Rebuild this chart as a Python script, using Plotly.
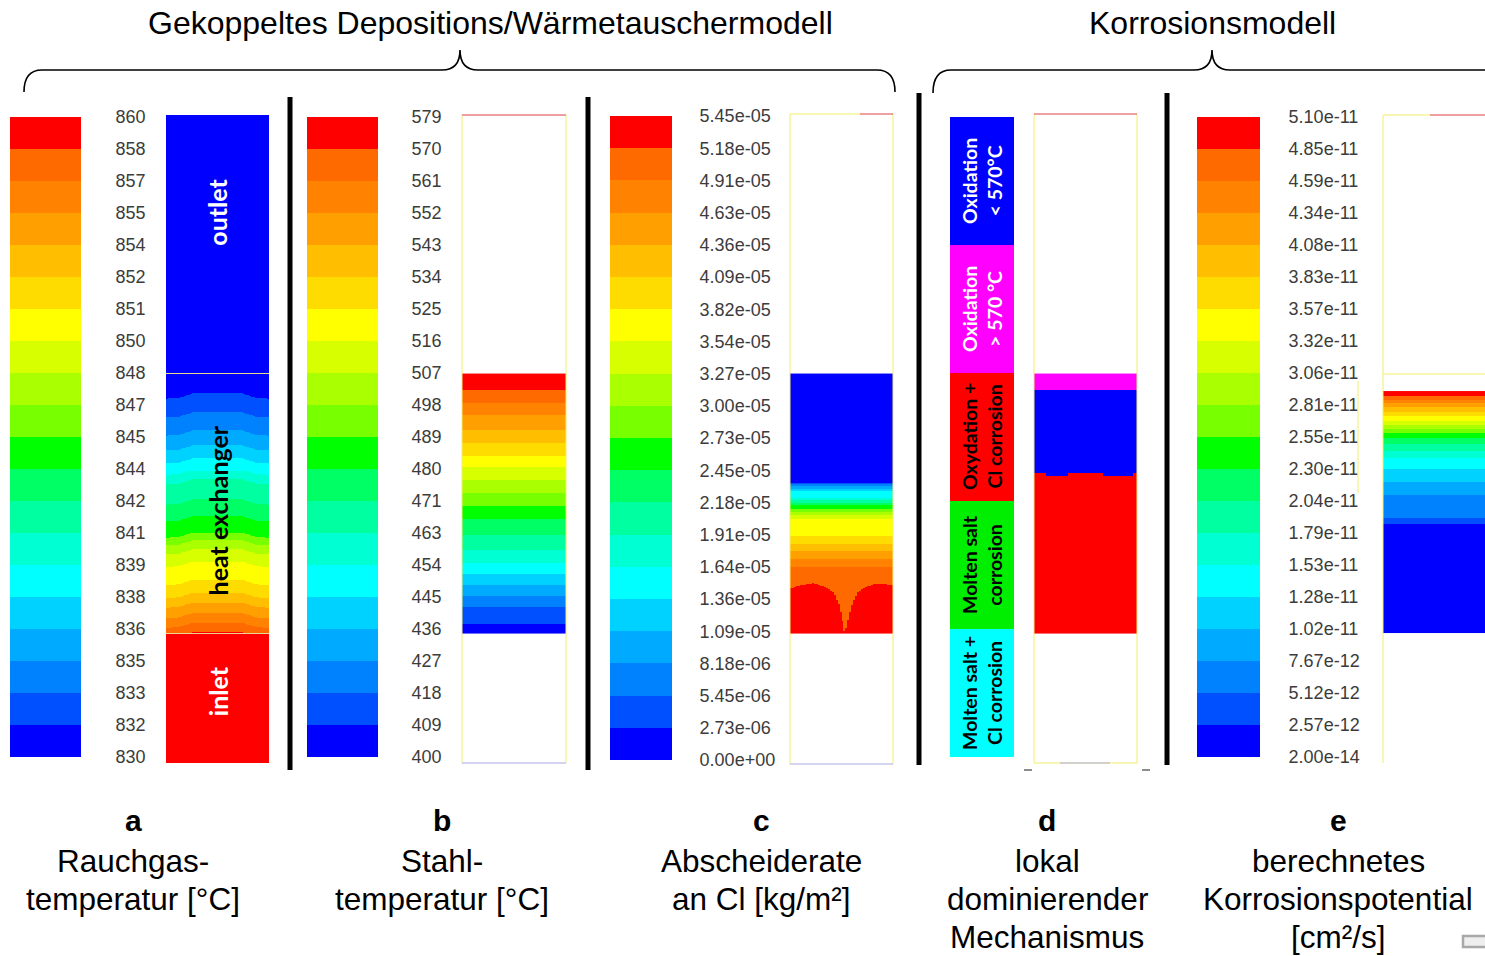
import numpy as np
import plotly.graph_objects as go

W, H = 1485, 956

# ---------------- colour-bar tick labels (bottom -> top) ----------------
a_labels = ["830", "832", "833", "835", "836", "838", "839", "841", "842", "844", "845",
            "847", "848", "850", "851", "852", "854", "855", "857", "858", "860"]
b_labels = ["400", "409", "418", "427", "436", "445", "454", "463", "471", "480", "489",
            "498", "507", "516", "525", "534", "543", "552", "561", "570", "579"]
c_labels = ["0.00e+00", "2.73e-06", "5.45e-06", "8.18e-06", "1.09e-05", "1.36e-05", "1.64e-05",
            "1.91e-05", "2.18e-05", "2.45e-05", "2.73e-05", "3.00e-05", "3.27e-05", "3.54e-05",
            "3.82e-05", "4.09e-05", "4.36e-05", "4.63e-05", "4.91e-05", "5.18e-05", "5.45e-05"]
e_labels = ["2.00e-14", "2.57e-12", "5.12e-12", "7.67e-12", "1.02e-11", "1.28e-11", "1.53e-11",
            "1.79e-11", "2.04e-11", "2.30e-11", "2.55e-11", "2.81e-11", "3.06e-11", "3.32e-11",
            "3.57e-11", "3.83e-11", "4.08e-11", "4.34e-11", "4.59e-11", "4.85e-11", "5.10e-11"]

a_range = (830.0, 860.0)
b_range = (400.0, 579.0)
c_range = (0.0, 5.45e-05)
e_range = (2.0e-14, 5.10e-11)

# normalised height: 0 = bottom of inlet, 1 = top of outlet
hx_bottom = 0.200
hx_top = 0.601

# a) flue gas temperature: heights of contour levels 1..19
a_inlet_T = 860.0
a_outlet_T = 830.0
a_iso_height = [0.571, 0.542, 0.514, 0.491, 0.471, 0.452, 0.437, 0.406, 0.380, 0.355,
                0.343, 0.329, 0.310, 0.282, 0.262, 0.247, 0.231, 0.216, 0.201]
a_shift_x = [0.0, 0.12, 0.26, 0.74, 0.88, 1.0]
a_shift = [-0.008, -0.007, 0.0, 0.0, -0.007, -0.008]

# b) steel temperature: heights of contour levels 1..19
b_iso_height = [0.216, 0.241, 0.258, 0.275, 0.292, 0.309, 0.329, 0.353, 0.377, 0.397,
                0.418, 0.438, 0.458, 0.475, 0.495, 0.515, 0.537, 0.557, 0.576]

# c) Cl deposition rate: heights of contour levels 1..19
c_iso_height = [0.4336, 0.4306, 0.4275, 0.4244, 0.4213, 0.4105, 0.4059, 0.4028, 0.3997, 0.3935,
                0.3889, 0.3843, 0.3781, 0.3519, 0.3395, 0.3287, 0.3164, 0.3040, 0.2716]
c_red_x = [0.0, 0.10, 0.22, 0.34, 0.42, 0.47, 0.505, 0.534, 0.57, 0.61, 0.66, 0.74, 0.85, 1.0]
c_red_top = [0.270, 0.275, 0.278, 0.273, 0.264, 0.247, 0.224, 0.200, 0.224, 0.247, 0.264,
             0.273, 0.278, 0.275]

# d) dominating mechanism
d_names = ["Molten salt +<br>Cl corrosion", "Molten salt<br>corrosion", "Oxydation +<br>Cl corrosion",
           "Oxidation<br>&gt; 570 °C", "Oxidation<br>&lt; 570°C"]
d_colors = ["#00ffff", "#00ee00", "#ff0000", "#ff00ff", "#0000ff"]
d_text_colors = ["black", "black", "black", "white", "white"]
d_wave_x = [0.0, 0.107, 0.33, 0.67, 0.96, 1.0]
d_blue_bottom = [0.449, 0.444, 0.449, 0.444, 0.449]
d_magenta_bottom = 0.576

# e) corrosion potential: heights of contour levels 1..19
e_iso_height = [0.369, 0.377, 0.414, 0.434, 0.454, 0.471, 0.481, 0.492, 0.502, 0.509,
                0.515, 0.522, 0.528, 0.535, 0.542, 0.549, 0.556, 0.560, 0.566]
e_top = 0.574

# ---------------- styling ----------------
BAND = ['#0000ff', '#0050ff', '#0082ff', '#00aaff', '#00d2ff', '#00ffff', '#00ffd2', '#00ffa0',
        '#00ff64', '#00ff00', '#78ff00', '#aaff00', '#d7ff00', '#ffff00', '#ffdc00', '#ffbe00',
        '#ffa000', '#ff8200', '#ff6a00', '#ff0000']


def discrete(colors):
    n = len(colors)
    cs = []
    for i, c in enumerate(colors):
        cs.append([i / n, c])
        cs.append([(i + 1) / n, c])
    return cs


CS = discrete(BAND)
TICKFONT = dict(family="Liberation Sans, Arial", size=18, color="#3c3c3c")
PX_PER_H = 648.0

fig = go.Figure()
axes = {}


def keys(i):
    return ('xaxis' if i == 1 else f'xaxis{i}', 'yaxis' if i == 1 else f'yaxis{i}',
            'x' if i == 1 else f'x{i}', 'y' if i == 1 else f'y{i}')


def make_axes(i, x0, x1, y0, y1, yr, ytick=None):
    xk, yk, xr, yrf = keys(i)
    axes[xk] = dict(domain=[x0 / W, x1 / W], range=[0, 1], visible=False, fixedrange=True, anchor=yrf)
    ya = dict(domain=[1 - y1 / H, 1 - y0 / H], range=yr, fixedrange=True, anchor=xr,
              showgrid=False, zeroline=False, showline=False, automargin=False)
    if ytick:
        ya.update(ytick)
    else:
        ya['visible'] = False
    axes[yk] = ya


def add_colorbar(i, x0, x1, y0, y1, labels, vrange, ticklen):
    lv = np.linspace(vrange[0], vrange[1], 21)
    mids = (lv[:-1] + lv[1:]) / 2
    _, _, xr, yrf = keys(i)
    fig.add_trace(go.Heatmap(z=[[m] for m in mids], x=[0, 1], y=list(range(21)), colorscale=CS,
                             zmin=lv[0], zmax=lv[-1], showscale=False, hoverinfo='skip',
                             xaxis=xr, yaxis=yrf))
    make_axes(i, x0, x1, y0, y1, [0, 20], dict(
        visible=True, side='right', tickmode='array', tickvals=list(range(21)), ticktext=labels,
        ticks='outside', ticklen=ticklen, tickcolor='rgba(0,0,0,0)', tickfont=TICKFONT))


def profile(iso, vrange, increasing, top):
    lv = np.linspace(vrange[0], vrange[1], 21)
    if increasing:
        xp = [hx_bottom] + list(iso) + [top]
        fp = list(lv)
    else:
        xp = [hx_bottom] + list(iso[::-1]) + [top]
        fp = list(lv[::-1])
    return xp, fp


def rows(top):
    n = int(round((top - hx_bottom) * PX_PER_H))
    edges = np.linspace(hx_bottom, top, n + 1)
    return edges, (edges[:-1] + edges[1:]) / 2


NCOL = 52
col_edges = np.linspace(0, 1, NCOL + 1)
col_c = (col_edges[:-1] + col_edges[1:]) / 2


def add_field(i, x0, x1, y0, y1, y_edges, Z, vrange, cs=CS):
    _, _, xr, yrf = keys(i)
    fig.add_trace(go.Heatmap(z=Z, x=col_edges, y=y_edges, colorscale=cs, zmin=vrange[0], zmax=vrange[1],
                             showscale=False, hoverinfo='skip', xaxis=xr, yaxis=yrf))
    make_axes(i, x0, x1, y0, y1, [0, 1])


FIELD_Y0, FIELD_Y1 = 115, 763

# ---- panel a ----
add_colorbar(1, 10, 81, 117, 757, a_labels, a_range, 30)
xp, fp = profile(a_iso_height, a_range, False, hx_top)
ed, hc = rows(hx_top)
sh = np.interp(col_c, a_shift_x, a_shift)
Za = np.interp(hc[:, None] - sh[None, :], xp, fp)
Za = np.vstack([np.full((1, NCOL), a_inlet_T), Za, np.full((1, NCOL), a_outlet_T)])
ya = np.concatenate([[0.0], ed, [1.0]])
add_field(2, 166, 269, FIELD_Y0, FIELD_Y1, ya, Za, a_range)

# ---- panel b ----
add_colorbar(3, 307, 378, 117, 757, b_labels, b_range, 29)
xp, fp = profile(b_iso_height, b_range, True, hx_top)
ed, hc = rows(hx_top)
Zb = np.interp(hc[:, None] + 0 * col_c[None, :], xp, fp)
add_field(4, 462, 566, FIELD_Y0, FIELD_Y1, ed, Zb, b_range)

# ---- panel c ----
add_colorbar(5, 610, 672, 116, 760, c_labels, c_range, 23)
xp, fp = profile(c_iso_height, c_range, False, hx_top)
ed, hc = rows(hx_top)
Zc = np.interp(hc[:, None] + 0 * col_c[None, :], xp, fp)
lvc = np.linspace(c_range[0], c_range[1], 21)
red_top = np.interp(col_c, c_red_x, c_red_top)
band19 = (lvc[19] + lvc[20]) / 2
band18 = (lvc[18] + lvc[19]) / 2
Zc = np.where(hc[:, None] < red_top[None, :], band19, np.minimum(Zc, band18))
add_field(6, 790, 893, FIELD_Y0, FIELD_Y1, ed, Zc, c_range)

# ---- panel d ----
_, _, xr7, yr7 = keys(7)
fig.add_trace(go.Heatmap(z=[[k] for k in range(5)], x=[0, 1], y=list(range(6)),
                         colorscale=discrete(d_colors), zmin=-0.5, zmax=4.5, showscale=False,
                         hoverinfo='skip', xaxis=xr7, yaxis=yr7))
make_axes(7, 950, 1014, 117, 757, [0, 5])
ed, hc = rows(hx_top)
wave_idx = np.clip(np.searchsorted(d_wave_x, col_c) - 1, 0, len(d_blue_bottom) - 1)
blue_bot = np.array(d_blue_bottom)[wave_idx]
Zd = np.where(hc[:, None] >= d_magenta_bottom, 3, np.where(hc[:, None] >= blue_bot[None, :], 4, 2))
add_field(8, 1034, 1137, FIELD_Y0, FIELD_Y1, ed, Zd.astype(float), (-0.5, 4.5), discrete(d_colors))

# ---- panel e ----
add_colorbar(9, 1197, 1260, 117, 757, e_labels, e_range, 24)
xp, fp = profile(e_iso_height, e_range, True, e_top)
ed, hc = rows(e_top)
Ze = np.interp(hc[:, None] + 0 * col_c[None, :], xp, fp)
add_field(10, 1383, 1485, FIELD_Y0, FIELD_Y1, ed, Ze, e_range)


# ---------------- decorations ----------------
def X(x):
    return x / W


def Y(y):
    return 1 - y / H


def P(x, y):
    return f"{X(x):.5f},{Y(y):.5f}"


shapes = []


def line(x0, y0, x1, y1, color, width):
    shapes.append(dict(type='line', xref='paper', yref='paper', x0=X(x0), y0=Y(y0), x1=X(x1), y1=Y(y1),
                       line=dict(color=color, width=width), layer='above'))


# separators
for sx, s0, s1 in [(290, 97, 770), (588, 97, 770), (919, 93, 765), (1167, 93, 765)]:
    line(sx, s0, sx, s1, 'black', 5)

# braces
brace1 = (f"M {P(24, 92)} Q {P(24, 70)} {P(42, 70)} L {P(442, 70)} Q {P(460, 70)} {P(460, 50)} "
          f"Q {P(460, 70)} {P(478, 70)} L {P(877, 70)} Q {P(895, 70)} {P(895, 92)}")
brace2 = (f"M {P(933, 93)} Q {P(933, 70)} {P(951, 70)} L {P(1194, 70)} Q {P(1212, 70)} {P(1212, 50)} "
          f"Q {P(1212, 70)} {P(1230, 70)} L {P(1485, 70)}")
for pth in (brace1, brace2):
    shapes.append(dict(type='path', path=pth, xref='paper', yref='paper',
                       line=dict(color='black', width=1.6)))

YEL = '#f4ee6a'
RED = '#e04040'
LBL = '#a9a9e0'
# panel a zone lines
line(166, 373.5, 269, 373.5, '#e6d890', 1)
line(166, 633.5, 269, 633.5, '#e6d890', 1)
# panel b borders
line(462, 115, 462, 763, YEL, 1)
line(566, 115, 566, 763, YEL, 1)
line(462, 115, 566, 115, RED, 1)
line(462, 763, 566, 763, LBL, 1)
# panel c borders
line(790, 114, 790, 764, YEL, 1)
line(893, 114, 893, 764, YEL, 1)
line(790, 114, 860, 114, YEL, 1)
line(860, 114, 893, 114, RED, 1)
line(790, 764, 893, 764, LBL, 1)
# panel d borders
line(1034, 114, 1034, 763, YEL, 1)
line(1137, 114, 1137, 763, YEL, 1)
line(1034, 114, 1137, 114, RED, 1)
line(1034, 763, 1137, 763, YEL, 1)
line(1060, 763, 1110, 763, LBL, 1)
line(1024, 770, 1032, 770, '#666666', 1.5)
line(1142, 770, 1150, 770, '#666666', 1.5)
# panel e borders
line(1383, 115, 1383, 763, YEL, 1)
line(1383, 115, 1430, 115, YEL, 1)
line(1430, 115, 1485, 115, RED, 1)
line(1383, 374, 1485, 374, YEL, 1)
line(1358, 381, 1358, 493, YEL, 1)
# small icon bottom right
shapes.append(dict(type='rect', xref='paper', yref='paper', x0=X(1463), x1=X(1490), y0=Y(947), y1=Y(936),
                   line=dict(color='#a8a8a8', width=2.5), fillcolor='#eeeeee'))

annotations = []


def ann(x, y, text, size, color='black', family='Liberation Sans, Arial'):
    annotations.append(dict(x=X(x), y=Y(y), xref='paper', yref='paper', text=text, showarrow=False,
                            xanchor='center', yanchor='middle',
                            font=dict(family=family, size=size, color=color)))


ann(490, 23, "Gekoppeltes Depositions/Wärmetauschermodell", 32)
ann(1212, 23, "Korrosionsmodell", 32)

bottom = [
    (133, ["<b>a</b>", "Rauchgas-", "temperatur [°C]"]),
    (442, ["<b>b</b>", "Stahl-", "temperatur [°C]"]),
    (761, ["<b>c</b>", "Abscheiderate", "an Cl [kg/m²]"]),
    (1047, ["<b>d</b>", "lokal", "dominierender", "Mechanismus"]),
    (1338, ["<b>e</b>", "berechnetes", "Korrosionspotential", "[cm²/s]"]),
]
row_y = [820, 861, 899, 937]
for cx, lines in bottom:
    for k, t in enumerate(lines):
        ann(cx, row_y[k], t, 30 if k == 0 else 31.5)

# texts inside panel a (axis-referenced)
_, _, xr2, yr2 = keys(2)
for txt, hpos, col in [("outlet", 0.850, "white"), ("heat exchanger", 0.389, "black"), ("inlet", 0.110, "white")]:
    annotations.append(dict(x=0.5, y=hpos, xref=xr2, yref=yr2, text=f"<b>{txt}</b>", showarrow=False,
                            textangle=-90, xanchor='center', yanchor='middle',
                            font=dict(family='Lato, Open Sans', size=25, color=col)))
# legend texts panel d
for k, name in enumerate(d_names):
    parts = name.split("<br>")
    annotations.append(dict(x=0.5, y=k + 0.5, xref=xr7, yref=yr7,
                            text="<br>".join(f"<b>{p}</b>" for p in parts), showarrow=False,
                            textangle=-90, xanchor='center', yanchor='middle',
                            font=dict(family='Lato, Open Sans', size=19.5, color=d_text_colors[k])))

fig.update_layout(
    width=W, height=H, autosize=False,
    margin=dict(l=0, r=0, t=0, b=0, pad=0, autoexpand=False),
    paper_bgcolor='white', plot_bgcolor='rgba(0,0,0,0)',
    showlegend=False,
    font=dict(family='Liberation Sans, Arial'),
    shapes=shapes, annotations=annotations,
    **axes,
)

fig.write_html("out.html", include_plotlyjs=True, config={'displayModeBar': False},
               post_script="document.body.style.margin='0';document.body.style.overflow='hidden';")
